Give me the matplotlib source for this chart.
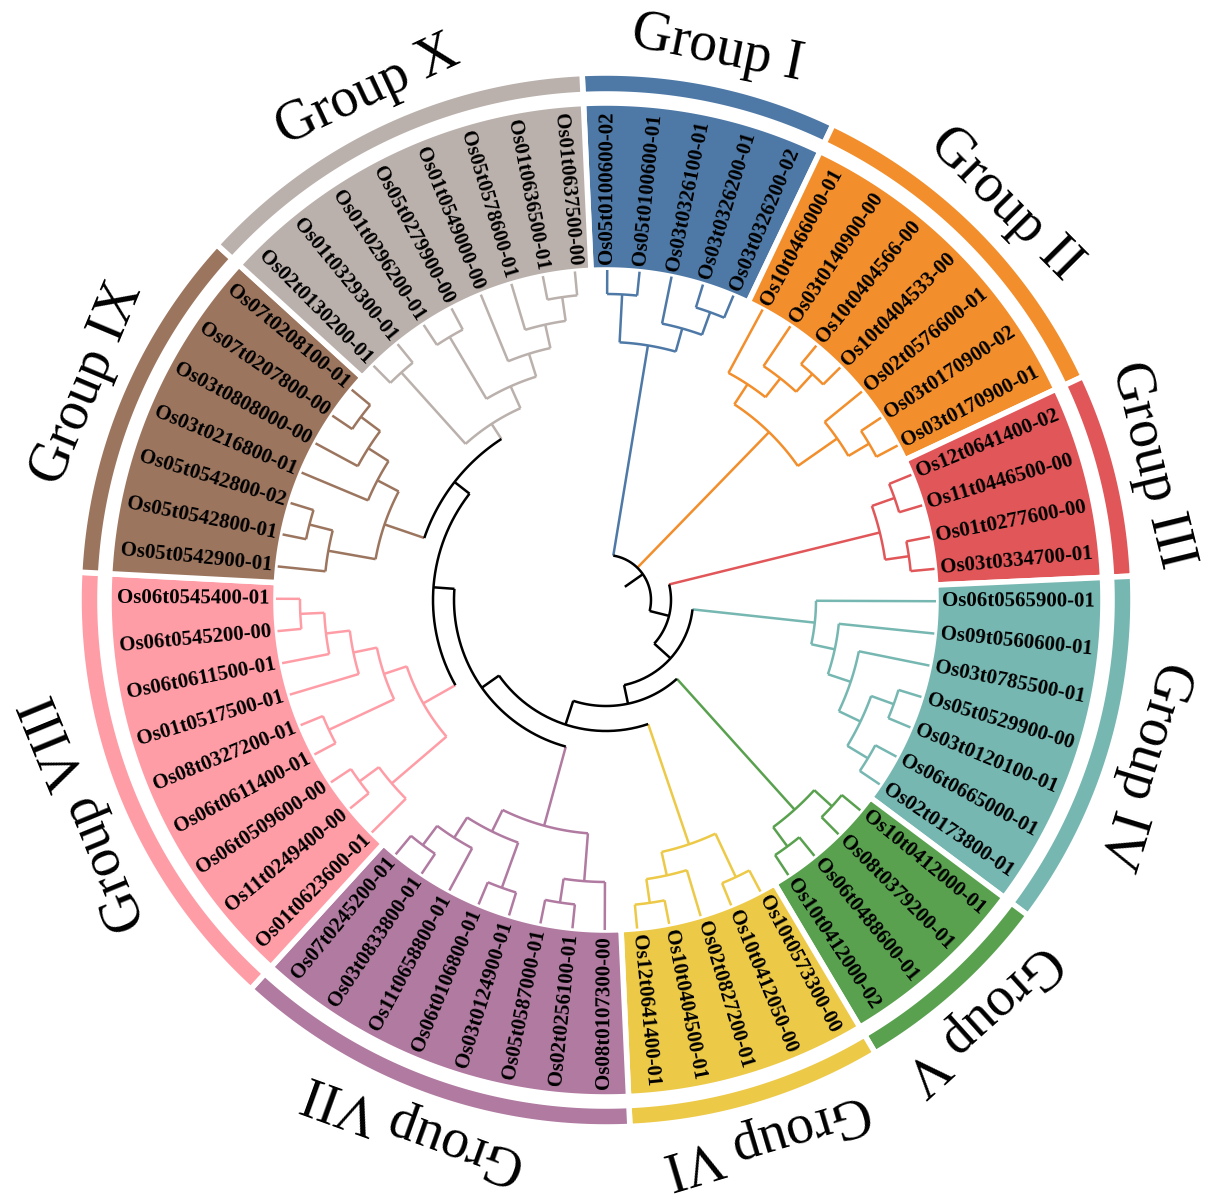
import matplotlib.pyplot as plt
import numpy as np

# ---- data ----
group_names = ["Group I", "Group II", "Group III", "Group IV", "Group V",
               "Group VI", "Group VII", "Group VIII", "Group IX", "Group X"]
group_colors = ["#4e79a7", "#f28e2b", "#e15759", "#76b7b2", "#59a14f",
                "#edc948", "#b07aa1", "#ff9da7", "#9c755f", "#bab0ac"]
group_leaves = [
    ["Os05t0100600-02", "Os05t0100600-01", "Os03t0326100-01", "Os03t0326200-01", "Os03t0326200-02"],
    ["Os10t0466000-01", "Os03t0140900-00", "Os10t0404566-00", "Os10t0404533-00", "Os02t0576600-01",
     "Os03t0170900-02", "Os03t0170900-01"],
    ["Os12t0641400-02", "Os11t0446500-00", "Os01t0277600-00", "Os03t0334700-01"],
    ["Os06t0565900-01", "Os09t0560600-01", "Os03t0785500-01", "Os05t0529900-00", "Os03t0120100-01",
     "Os06t0665000-01", "Os02t0173800-01"],
    ["Os10t0412000-01", "Os08t0379200-01", "Os06t0488600-01", "Os10t0412000-02"],
    ["Os10t0573300-00", "Os10t0412050-00", "Os02t0827200-01", "Os10t0404500-01", "Os12t0641400-01"],
    ["Os08t0107300-00", "Os02t0256100-01", "Os05t0587000-01", "Os03t0124900-01", "Os06t0106800-01",
     "Os11t0658800-01", "Os03t0833800-01", "Os07t0245200-01"],
    ["Os01t0623600-01", "Os11t0249400-00", "Os06t0509600-00", "Os06t0611400-01", "Os08t0327200-01",
     "Os01t0517500-01", "Os06t0611500-01", "Os06t0545200-00", "Os06t0545400-01"],
    ["Os05t0542900-01", "Os05t0542800-01", "Os05t0542800-02", "Os03t0216800-01", "Os03t0808000-00",
     "Os07t0207800-00", "Os07t0208100-01"],
    ["Os02t0130200-01", "Os01t0329300-01", "Os01t0296200-01", "Os05t0279900-00", "Os01t0549000-00",
     "Os05t0578600-01", "Os01t0636500-01", "Os01t0637500-00"],
]
# clade topology inside each group (local leaf indices)
group_trees = [
    ((0, 1), (2, (3, 4))),
    ((0, (1, (2, 3))), (4, (5, 6))),
    ((0, 1), (2, 3)),
    (0, (1, (2, ((3, 4), (5, 6))))),
    ((0, 1), (2, 3)),
    ((0, 1), (2, (3, 4))),
    ((0, (1, 2)), ((3, 4), (5, (6, 7)))),
    ((0, (1, 2)), ((3, 4), (5, (6, (7, 8))))),
    ((0, (1, 2)), (3, (4, (5, 6)))),
    ((0, 1), ((2, 3), (4, (5, (6, 7))))),
]
# backbone: (radius, [children]); ints are group indices
backbone = (45, [0, 1, (65, [2, (87, [3, (106, [4, (131, [5, (152, [6, (173, [7, (192, [8, 9])])])])])])])])

# ---- layout ----
CX, CY = 606, 600
R_LEAF, R_WEDGE, R_RING0, R_RING1 = 330, 497, 506, 527
START = -2.6
N = sum(len(g) for g in group_leaves)
STEP = 360 / N

fig = plt.figure(figsize=(12.23, 12.04), dpi=100)
ax = fig.add_axes([0, 0, 1, 1])
ax.set_xlim(0, 1223)
ax.set_ylim(1204, 0)
ax.set_aspect('equal')
ax.axis('off')


def xy(a, r):
    t = np.radians(a)
    return CX + r * np.sin(t), CY - r * np.cos(t)


def sector(a1, a2, r1, r2, color):
    aa = np.linspace(a1, a2, 80)
    xs1, ys1 = xy(aa, r2)
    xs2, ys2 = xy(aa[::-1], r1)
    ax.fill(np.r_[xs1, xs2], np.r_[ys1, ys2], color=color, ec='white', lw=4, zorder=1)


def arc(a1, a2, r, color):
    aa = np.linspace(a1, a2, max(int(abs(a2 - a1)), 2) * 2)
    xs, ys = xy(aa, r)
    ax.plot(xs, ys, color=color, lw=1.8, zorder=3, solid_capstyle='butt')


def radial(a, r1, r2, color):
    xs, ys = xy(np.array([a, a]), np.array([r1, r2]))
    ax.plot(xs, ys, color=color, lw=1.8, zorder=3, solid_capstyle='butt')


def height(node):
    if isinstance(node, int):
        return 0
    return 1 + max(height(c) for c in node)


offsets = np.cumsum([0] + [len(g) for g in group_leaves])


def draw_group(node, g, color):
    if isinstance(node, int):
        return START + (offsets[g] + node + 0.5) * STEP, R_LEAF
    r = R_LEAF - 24 * height(node)
    kids = [draw_group(c, g, color) for c in node]
    for a, rc in kids:
        radial(a, r, rc, color)
    angs = [k[0] for k in kids]
    arc(min(angs), max(angs), r, color)
    return np.mean([min(angs), max(angs)]), r


def draw_backbone(node):
    r, children = node
    kids = []
    for c in children:
        if isinstance(c, int):
            a, rc = draw_group(group_trees[c], c, group_colors[c])
            radial(a, r, rc, group_colors[c])
            kids.append(a)
        else:
            a, rc = draw_backbone(c)
            radial(a, r, rc, 'black')
            kids.append(a)
    arc(min(kids), max(kids), r, 'black')
    return np.mean([min(kids), max(kids)]), r


ra, rr = draw_backbone(backbone)
radial(55, 23, rr, 'black')

# wedges, rings, labels
for g, names in enumerate(group_leaves):
    a1 = START + offsets[g] * STEP
    a2 = START + offsets[g + 1] * STEP
    sector(a1, a2, R_LEAF, R_WEDGE, group_colors[g])
    sector(a1, a2, R_RING0, R_RING1, group_colors[g])
    for i, name in enumerate(names):
        a = a1 + (i + 0.5) * STEP
        x, y = xy(a, R_LEAF + 6)
        phi = 90 - a
        if np.cos(np.radians(phi)) >= -1e-9:
            rot, ha = phi, 'left'
        else:
            rot, ha = phi + 180, 'right'
        ax.text(x, y, name, rotation=rot, ha=ha, va='center', rotation_mode='anchor',
                fontsize=15, fontweight='bold', family='Liberation Serif', zorder=4)
    am = (a1 + a2) / 2
    x, y = xy(am, 562)
    ax.text(x, y, group_names[g], rotation=-am, ha='center', va='center',
            rotation_mode='anchor', fontsize=40, family='Liberation Serif')

fig.savefig('out.png', dpi=100)
